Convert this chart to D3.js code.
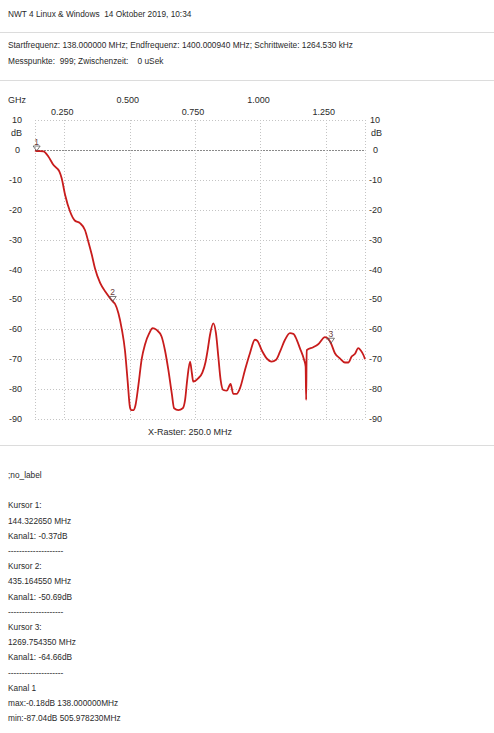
<!DOCTYPE html>
<html>
<head>
<meta charset="utf-8">
<script src="https://cdn.jsdelivr.net/npm/d3@7/dist/d3.min.js"></script>
<style>
  html, body { margin: 0; padding: 0; background: #fff; }
  svg { display: block; }
  text { font-family: "Liberation Sans", Arial, sans-serif; fill: #2a2a2a; white-space: pre; }
</style>
</head>
<body>
<svg id="chart" width="494" height="733"></svg>
<script>
// Sweep: frequency (MHz) and level (dB) of channel 1
const freqMHz = [138, 144.3, 170, 189, 208, 231, 240, 253, 272, 291, 310, 329, 342, 355, 367, 387, 412, 435.2, 444, 457,
  470, 482, 492, 501, 506, 515, 522, 533, 546, 559, 575, 588, 603, 622, 635, 648, 661, 670, 686, 703,
  712, 720, 731, 738, 743, 762, 778, 790, 800, 807, 820, 830, 839, 848, 858, 871, 886, 896, 909, 922,
  941, 960, 979, 988, 1005, 1024, 1043, 1060, 1075, 1094, 1113, 1126, 1139, 1151, 1167, 1173, 1175, 1177, 1202, 1221,
  1247, 1260, 1269.75, 1285, 1304, 1323, 1336, 1349, 1362, 1374, 1384, 1394, 1400];
const levelDb = [-0.18, -0.37, -0.5, -2.2, -5, -7.2, -9.5, -15, -20.6, -23.7, -24.5, -26.8, -30.7, -35, -39.5, -44.5, -48, -50.69, -51.5, -54.6,
  -60, -67, -77, -86, -87.04, -87, -85.5, -79, -70, -65, -61.3, -59.6, -60.2, -62.4, -67, -73.6, -81.4, -86.4, -87, -86.4,
  -83.6, -77, -70.8, -74.7, -77.5, -76.4, -74.5, -71, -66, -62, -58, -61.3, -69.1, -77, -80.3, -80.5, -78.3, -81.6, -81.6, -79.7,
  -73.6, -68, -63.5, -63.8, -67, -69.7, -70.8, -70.2, -67.5, -63.5, -61.3, -61.5, -63.5, -66.3, -70.2, -72.5, -83.6, -67, -66, -65,
  -62.6, -63.3, -64.66, -68, -69.7, -71.1, -71.1, -69.1, -68.2, -66.3, -67.1, -68.6, -70];

// Cursors
const cursorIds = ["1", "2", "3"];
const cursorFreq = [144.32265, 435.16455, 1269.75435];
const cursorDb = [-0.37, -50.69, -64.66];

// Axis ticks
const xGridMHz = [250, 500, 750, 1000, 1250];
const xTickLabels = ["0.250", "0.500", "0.750", "1.000", "1.250"];
const yTicks = [10, 0, -10, -20, -30, -40, -50, -60, -70, -80, -90];

// Text blocks
const headerLines = [
  "NWT 4 Linux & Windows  14 Oktober 2019, 10:34",
  "Startfrequenz: 138.000000 MHz; Endfrequenz: 1400.000940 MHz; Schrittweite: 1264.530 kHz",
  "Messpunkte:  999; Zwischenzeit:    0 uSek"
];
const reportLines = [
  ";no_label", "",
  "Kursor 1:", "144.322650 MHz", "Kanal1: -0.37dB", "--------------------",
  "Kursor 2:", "435.164550 MHz", "Kanal1: -50.69dB", "--------------------",
  "Kursor 3:", "1269.754350 MHz", "Kanal1: -64.66dB", "--------------------",
  "Kanal 1", "max:-0.18dB 138.000000MHz", "min:-87.04dB 505.978230MHz"
];

const svg = d3.select("#chart");

// Header
const hdr = svg.append("g").attr("font-size", 8.3);
hdr.append("text").attr("x", 8).attr("y", 17).text(headerLines[0]);
hdr.append("text").attr("x", 8).attr("y", 48).text(headerLines[1]);
hdr.append("text").attr("x", 8).attr("y", 64).text(headerLines[2]);
[32, 80, 445].forEach(yy => svg.append("line")
  .attr("x1", 0).attr("x2", 494).attr("y1", yy + 0.5).attr("y2", yy + 0.5)
  .attr("stroke", "#dcdcdc").attr("stroke-width", 1));

// Plot scales
const x = d3.scaleLinear().domain([138, 1400]).range([35, 365]);
const y = d3.scaleLinear().domain([10, -90]).range([120, 419]);

const grid = svg.append("g");
grid.selectAll("line.h").data(yTicks).join("line")
  .attr("x1", x(138)).attr("x2", x(1400))
  .attr("y1", d => Math.round(y(d)) + 0.5).attr("y2", d => Math.round(y(d)) + 0.5)
  .attr("stroke", d => d === 0 ? "#8a8a8a" : "#c4c4c4")
  .attr("stroke-dasharray", d => d === 0 ? "2,1" : "1,2");
grid.selectAll("line.v").data([138, ...xGridMHz, 1400]).join("line")
  .attr("x1", d => Math.round(x(d)) + 0.5).attr("x2", d => Math.round(x(d)) + 0.5)
  .attr("y1", y(10)).attr("y2", y(-90))
  .attr("stroke", "#c4c4c4").attr("stroke-dasharray", "1,2");

// Top frequency labels (GHz), staggered in two rows
const topAxis = svg.append("g").attr("font-size", 9);
topAxis.append("text").attr("x", 8).attr("y", 103).text("GHz");
topAxis.selectAll("text.t").data(xGridMHz).join("text")
  .attr("x", d => x(d) - 2)
  .attr("y", (d, i) => i % 2 ? 103 : 115)
  .attr("text-anchor", "middle")
  .text((d, i) => xTickLabels[i]);

// Left and right dB labels
const leftAxis = svg.append("g").attr("font-size", 9);
leftAxis.selectAll("text").data(yTicks).join("text")
  .attr("x", d => d === 0 ? 20 : 22).attr("y", d => y(d) + 3)
  .attr("text-anchor", "end").text(d => d);
leftAxis.append("text").attr("x", 22).attr("y", 136).attr("text-anchor", "end").text("dB");
const rightAxis = svg.append("g").attr("font-size", 9);
rightAxis.selectAll("text").data(yTicks).join("text")
  .attr("x", d => d === 0 ? 373 : (d > 0 ? 370 : 369)).attr("y", d => y(d) + 3)
  .text(d => d);
rightAxis.append("text").attr("x", 371).attr("y", 136).text("dB");

// Trace
const pts = freqMHz.map((f, i) => [f, levelDb[i]]);
const line = d3.line().x(d => x(d[0])).y(d => y(d[1])).curve(d3.curveMonotoneX);
svg.append("path").datum(pts).attr("d", line)
  .attr("fill", "none").attr("stroke", "#c81c1c").attr("stroke-width", 1.8)
  .attr("stroke-linejoin", "round");

// Cursor markers
const cur = svg.append("g");
cursorIds.forEach((id, i) => {
  const cx = x(cursorFreq[i]), cy = y(cursorDb[i]);
  cur.append("path")
    .attr("d", `M${cx - 3.5},${cy - 5}L${cx + 3.5},${cy - 5}L${cx},${cy}Z`)
    .attr("fill", "none").attr("stroke", "#555").attr("stroke-width", 0.8);
  cur.append("text").attr("x", cx).attr("y", cy - 6).attr("text-anchor", "middle")
    .attr("font-size", 8.5).style("fill", "#6b3a3a").text(id);
});

// X raster caption
svg.append("text").attr("x", 190).attr("y", 435).attr("text-anchor", "middle")
  .attr("font-size", 9).text("X-Raster: 250.0 MHz");

// Cursor report
const rep = svg.append("g").attr("font-size", 8.3);
rep.selectAll("text").data(reportLines).join("text")
  .attr("x", 8).attr("y", (d, i) => 478 + i * 15.2)
  .text(d => d);
</script>
</body>
</html>
